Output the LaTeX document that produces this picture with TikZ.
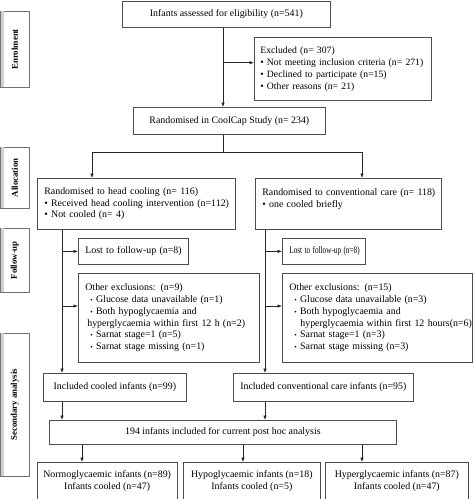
\documentclass[tikz,border=0pt]{standalone}
\usepackage{fontspec}
\setmainfont{Liberation Serif}
\usetikzlibrary{arrows.meta,calc}
\newcommand{\bl}{\textbullet\ }
\newcommand{\sbl}{{\scriptsize\textbullet}\ }
\begin{document}
\begin{tikzpicture}[x=1pt,y=-1pt,
  txt/.style={font=\fontsize{9.9}{11.7}\selectfont},
  box/.style={draw=black!70, line width=0.7pt, inner xsep=6pt, inner ysep=0pt, anchor=north west, txt},
  lbox/.style={box, align=left, inner xsep=0pt},
  cbox/.style={box, align=center},
  arr/.style={draw=black!85, line width=0.7pt, -{Latex[length=4.5pt,width=3.6pt]}},
  ln/.style={draw=black!85, line width=0.7pt},
  side/.style={draw=black!55, line width=0.6pt, anchor=north west, minimum width=28pt, inner sep=0pt, fill=white},
  sidetxt/.style={rotate=90, font=\fontsize{8.8}{10}\selectfont\bfseries}
]
\useasboundingbox (0,0) rectangle (474,499);

% side labels
\foreach \nm/\ya/\yb/\lab in {sEn/11/87/Enrolment, sAl/147/208/Allocation, sFo/228/292/Follow-up, sSe/333/476/Secondary analysis}{
  \node[side, minimum height={\yb-\ya}] (\nm) at (0.5,\ya) {};
  \fill[black!18] (0.5,\ya) rectangle (4,\yb);
  \node[sidetxt] (\nm-t) at (\nm.center) {\lab};
}

% main boxes
\node[cbox, minimum width=208pt, minimum height=26pt] (top) at (122,1) {Infants assessed for eligibility (n=541)};
\node[lbox, text width=177pt, minimum height=63pt, font=\fontsize{9.7}{12}\selectfont] (excl) at (254,37)
 {\hspace*{6pt}Excluded (n= 307)\\
  \hspace*{6pt}\mbox{\bl Not meeting inclusion criteria (n= 271)}\\
  \hspace*{6pt}\bl Declined to participate (n=15)\\
  \hspace*{6pt}\bl Other reasons (n= 21)};
\node[cbox, minimum width=192pt, minimum height=27pt] (rand) at (133,107) {Randomised in CoolCap Study (n= 234)};

\node[lbox, text width=198pt, minimum height=51pt] (hc) at (37,178)
 {\hspace*{7pt}Randomised to head cooling (n= 116)\\
  \hspace*{7pt}\mbox{\bl Received head cooling intervention (n=112)}\\
  \hspace*{7pt}\bl Not cooled (n= 4)};
\node[lbox, text width=186pt, minimum height=51pt] (cc) at (255,178)
 {\hspace*{7pt}Randomised to conventional care (n= 118)\\
  \hspace*{7pt}\bl one cooled briefly\\ \mbox{}};

\node[lbox, text width=110pt, minimum height=26pt] (lost1) at (78,238) {\hspace*{7pt}Lost to follow-up (n=8)};
\node[lbox, text width=83pt, minimum height=26pt] (lost2) at (282,238) {\hspace*{7pt}\scalebox{0.73}[1]{Lost to follow-up (n=8)}};

\node[lbox, text width=181pt, minimum height=89pt] (oth1) at (78,273)
 {\hspace*{7pt}Other exclusions: (n=9)\\
  \hspace*{12pt}\sbl Glucose data unavailable (n=1)\\
  \hspace*{12pt}\sbl Both hypoglycaemia and\\
  \hspace*{9pt}\mbox{hyperglycaemia within first 12 h (n=2)}\\
  \hspace*{12pt}\sbl Sarnat stage=1 (n=5)\\
  \hspace*{12pt}\sbl Sarnat stage missing (n=1)};
\node[lbox, text width=190pt, minimum height=89pt] (oth2) at (282,273)
 {\hspace*{7pt}Other exclusions: (n=15)\\
  \hspace*{12pt}\sbl Glucose data unavailable (n=3)\\
  \hspace*{12pt}\sbl Both hypoglycaemia and\\
  \hspace*{18pt}\mbox{hyperglycaemia within first 12 hours(n=6)}\\
  \hspace*{12pt}\sbl Sarnat stage=1 (n=3)\\
  \hspace*{12pt}\sbl Sarnat stage missing (n=3)};

\node[cbox, minimum width=143pt, minimum height=28pt] (inc1) at (43,373) {Included cooled infants (n=99)};
\node[cbox, minimum width=180pt, minimum height=28pt] (inc2) at (233,373) {Included conventional care infants (n=95)};

\node[cbox, minimum width=347pt, minimum height=24pt] (all) at (49,420) {194 infants included for current post hoc analysis};

\node[cbox, minimum width=134pt, minimum height=37pt] (normo) at (37,462) {Normoglycaemic infants (n=89)\\ Infants cooled (n=47)};
\node[cbox, minimum width=137pt, minimum height=37pt] (hypo) at (183,462) {Hypoglycaemic infants (n=18)\\ Infants cooled (n=5)};
\node[cbox, minimum width=143pt, minimum height=37pt] (hyper) at (325,462) {Hyperglycaemic infants (n=87)\\ Infants cooled (n=47)};

% connectors
\coordinate (tx) at ($(top.south west)+(101,0)$);
\draw[arr] (tx) -- (tx |- rand.north);
\draw[arr] ($(tx)+(0,35)$) -- (excl.west |- {$(tx)+(0,35)$});
\coordinate (rx) at ($(rand.south west)+(90,0)$);
\coordinate (sp) at ($(rx)+(0,18)$);
\draw[ln] (rx) -- (sp);
\coordinate (hx) at ($(hc.north west)+(55,0)$);
\coordinate (cx) at ($(cc.north west)+(107,0)$);
\draw[arr] (sp) -| (hx);
\draw[arr] (sp) -| (cx);

\coordinate (v1) at ($(hc.south west)+(25,0)$);
\draw[arr] (v1) -- (v1 |- inc1.north);
\draw[arr] (v1 |- lost1.west) -- (lost1.west);
\draw[arr] ($(v1 |- oth1.north)+(0,33)$) -- ($(oth1.north west)+(0,33)$);

\coordinate (v2) at ($(cc.south west)+(10,0)$);
\draw[arr] (v2) -- (v2 |- inc2.north);
\draw[arr] (v2 |- lost2.west) -- (lost2.west);
\draw[arr] ($(v2 |- oth2.north)+(0,33)$) -- ($(oth2.north west)+(0,33)$);

\draw[arr] (v1 |- inc1.south) -- (v1 |- all.north);
\draw[arr] (v2 |- inc2.south) -- (v2 |- all.north);

\coordinate (b1) at ($(normo.north west)+(45,0)$);
\coordinate (b2) at ($(hypo.north west)+(60,0)$);
\coordinate (b3) at ($(hyper.north west)+(37,0)$);
\draw[arr] (b1 |- all.south) -- (b1);
\draw[arr] (b2 |- all.south) -- (b2);
\draw[arr] (b3 |- all.south) -- (b3);
\end{tikzpicture}
\end{document}
